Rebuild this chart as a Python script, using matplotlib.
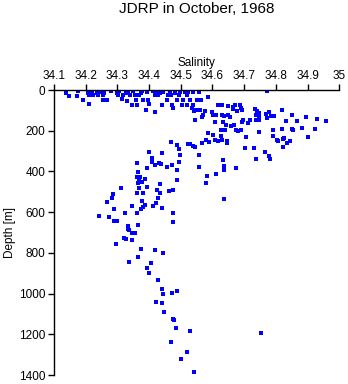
import matplotlib
matplotlib.use("Agg")
from matplotlib import pyplot as plt

plt.rcParams['font.family'] = ['Liberation Sans', 'DejaVu Sans']

# near-surface band, 0-130 m
sal_top = [34.137, 34.149, 34.174, 34.177, 34.191, 34.206, 34.212, 34.212, 34.219, 34.224,
           34.235, 34.240, 34.248, 34.254, 34.254, 34.258, 34.266, 34.279, 34.298, 34.303,
           34.306, 34.314, 34.317, 34.327, 34.329, 34.335, 34.340, 34.345, 34.350, 34.356,
           34.359, 34.363, 34.367, 34.375, 34.377, 34.382, 34.390, 34.395, 34.398, 34.401,
           34.414, 34.419, 34.419, 34.424, 34.429, 34.435, 34.440, 34.445, 34.456, 34.461,
           34.466, 34.468, 34.471, 34.475, 34.482, 34.487, 34.496, 34.498, 34.503, 34.508,
           34.513, 34.519, 34.521, 34.524, 34.529, 34.535, 34.538, 34.540, 34.542, 34.548,
           34.550, 34.556, 34.561, 34.564, 34.566, 34.569, 34.577, 34.587, 34.598, 34.603,
           34.608, 34.610, 34.619]
dep_top = [13, 28, 28, 3, 49, 13, 69, 25, 3, 25,
           13, 25, 8, 25, 49, 13, 49, 3, 13, 25,
           3, 44, 25, 16, 52, 8, 25, 74, 3, 25,
           49, 74, 25, 16, 3, 49, 98, 8, 49, 69,
           3, 106, 25, 16, 25, 13, 74, 8, 49, 25,
           8, 25, 74, 90, 16, 49, 25, 8, 74, 49,
           8, 74, 25, 8, 49, 90, 74, 8, 101, 98,
           49, 8, 98, 49, 131, 123, 101, 33, 110, 123,
           156, 123, 74]

# fresher tongue, 150-650 m
sal_mid = [34.545, 34.587, 34.590, 34.603, 34.608, 34.619, 34.468, 34.487, 34.496, 34.498,
           34.524, 34.529, 34.538, 34.545, 34.556, 34.566, 34.580, 34.496, 34.556, 34.401,
           34.408, 34.440, 34.408, 34.419, 34.431, 34.437, 34.456, 34.471, 34.489, 34.361,
           34.366, 34.393, 34.372, 34.361, 34.369, 34.387, 34.377, 34.366, 34.489, 34.464,
           34.475, 34.433, 34.424, 34.393, 34.313, 34.369, 34.363, 34.382, 34.287, 34.282,
           34.266, 34.433, 34.429, 34.377, 34.387, 34.422, 34.374, 34.440, 34.289, 34.345,
           34.363, 34.324, 34.243, 34.275, 34.477, 34.610, 34.582, 34.580, 34.382, 34.411]
dep_mid = [147, 213, 254, 221, 246, 249, 254, 270, 291, 321,
           267, 267, 275, 282, 321, 262, 246, 352, 380, 303,
           336, 308, 352, 368, 360, 363, 380, 368, 393, 357,
           404, 385, 426, 426, 445, 439, 450, 458, 442, 494,
           491, 462, 491, 478, 483, 483, 504, 504, 512, 532,
           552, 507, 532, 543, 565, 553, 586, 581, 586, 570,
           602, 606, 619, 622, 602, 413, 421, 455, 576, 570]

# deep casts, 640-1390 m
sal_deep = [34.289, 34.300, 34.474, 34.333, 34.366, 34.333, 34.338, 34.345, 34.356, 34.322,
            34.327, 34.345, 34.297, 34.375, 34.419, 34.445, 34.366, 34.338, 34.407, 34.393,
            34.399, 34.429, 34.442, 34.471, 34.489, 34.445, 34.422, 34.442, 34.448, 34.474,
            34.480, 34.486, 34.530, 34.468, 34.520, 34.502, 34.543, 34.753]
dep_deep = [643, 645, 650, 666, 663, 682, 687, 704, 704, 725,
            730, 736, 756, 782, 787, 799, 818, 846, 851, 876,
            900, 933, 977, 995, 985, 1003, 1043, 1047, 1092, 1124,
            1129, 1170, 1185, 1236, 1288, 1322, 1386, 1195]

# saltier stations to the east
sal_east = [34.773, 34.631, 34.648, 34.666, 34.671, 34.666, 34.687, 34.689, 34.678, 34.694,
            34.734, 34.741, 34.747, 34.748, 34.737, 34.769, 34.779, 34.784, 34.794, 34.773,
            34.820, 34.852, 34.868, 34.896, 34.931, 34.958, 34.650, 34.655, 34.637, 34.629,
            34.632, 34.643, 34.657, 34.669, 34.674, 34.682, 34.689, 34.692, 34.697, 34.713,
            34.718, 34.737, 34.748, 34.706, 34.748, 34.731, 34.737, 34.703, 34.790, 34.818,
            34.831, 34.850, 34.855, 34.881, 34.923, 34.902, 34.790, 34.806, 34.821, 34.826,
            34.845, 34.834, 34.824, 34.778, 34.781, 34.766, 34.805, 34.631, 34.645, 34.637,
            34.674, 34.639, 34.628, 34.637, 34.637, 34.647, 34.634, 34.628]
dep_east = [3, 74, 79, 82, 74, 93, 74, 90, 101, 98,
            95, 101, 115, 128, 121, 118, 106, 128, 128, 139,
            98, 121, 151, 134, 144, 151, 123, 131, 128, 123,
            156, 172, 177, 172, 196, 200, 196, 156, 147, 160,
            147, 147, 147, 232, 208, 286, 341, 286, 196, 193,
            152, 193, 196, 188, 193, 232, 226, 249, 242, 237,
            249, 262, 282, 324, 339, 306, 246, 246, 262, 373,
            385, 196, 196, 393, 535, 249, 344, 226]

salinity = sal_top + sal_mid + sal_deep + sal_east
depth = dep_top + dep_mid + dep_deep + dep_east

xticks = [34.1, 34.2, 34.3, 34.4, 34.5, 34.6, 34.7, 34.8, 34.9, 35]
xtick_labels = ['34.1', '34.2', '34.3', '34.4', '34.5', '34.6', '34.7', '34.8', '34.9', '35']
yticks = [0, 200, 400, 600, 800, 1000, 1200, 1400]

fig = plt.figure(figsize=(3.48, 3.84), dpi=100)
ax = fig.add_axes([0.155, 0.0234, 0.82, 0.742])

ax.scatter(salinity, depth, s=5, marker='s', color='#0000ff', linewidths=0, antialiased=False)

ax.set_xlim(34.1, 35)
ax.set_ylim(1400, 0)
ax.xaxis.tick_top()
ax.xaxis.set_label_position('top')
ax.set_xticks(xticks)
ax.set_xticklabels(xtick_labels)
ax.set_yticks(yticks)
ax.tick_params(axis='both', direction='out', length=4, width=1, labelsize=8.5, pad=2)
for side in ['right', 'bottom']:
    ax.spines[side].set_visible(False)
for side in ['left', 'top']:
    ax.spines[side].set_linewidth(1)

ax.set_xlabel('Salinity', fontsize=8.5, labelpad=3)
ax.set_ylabel('Depth [m]', fontsize=8.5, labelpad=2)
fig.text(0.565, 0.977, 'JDRP in October, 1968', ha='center', va='center', fontsize=11)

fig.savefig('out.png', dpi=100)
